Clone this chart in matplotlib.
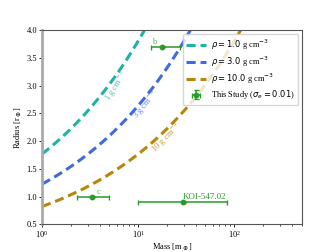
import numpy as np
import matplotlib
matplotlib.use('Agg')
import matplotlib.pyplot as plt

# densities of the constant-density curves (g cm^-3)
densities = [1.0, 3.0, 10.0]
dens_colors = ['#20b2a5', '#4169e1', '#b8860b']
dens_names = ['1 g cm$^{-3}$', '3 g cm$^{-3}$', '10 g cm$^{-3}$']
# where the inline labels sit (mass, radius, angle)
lab_mass = [5.9, 11.8, 19.6]
lab_rad = [2.99, 2.66, 2.07]
lab_rot = [57, 50, 45]

# planets: mass, mass errors, radius
pl_names = ['b', 'c', 'KOI-547.02']
pl_mass = [17.7, 3.3, 29.4]
pl_mlo = [4.1, 1.0, 19.4]
pl_mhi = [9.3, 1.7, 54.6]
pl_rad = [3.70, 1.00, 0.90]
pl_rerr = [0.01, 0.01, 0.01]

plt.rcParams['font.family'] = ['Liberation Serif', 'DejaVu Sans']
plt.rcParams['mathtext.fontset'] = 'dejavusans'
plt.rcParams['font.size'] = 6

fig = plt.figure(figsize=(3.36, 2.52), dpi=100)
ax = fig.add_subplot(111)

rho_earth = 5.51
m = np.logspace(0, 3, 200)
for rho, col in zip(densities, dens_colors):
    r = (rho_earth / rho * m) ** (1.0 / 3)
    ax.plot(m, r, '--', color=col, lw=2.2, dashes=(3, 1.6),
            label=r'$\rho = %.1f$ g cm$^{-3}$' % rho)

for i in range(3):
    ax.text(lab_mass[i], lab_rad[i], dens_names[i], color=dens_colors[i],
            rotation=lab_rot[i], ha='center', va='center', fontsize=6.2, alpha=0.8)

ax.errorbar(pl_mass, pl_rad, xerr=[pl_mlo, pl_mhi], yerr=pl_rerr, fmt='o',
            color='#2a9a2a', ms=3.2, lw=1.1, capsize=1.8,
            label=r'This Study ($\sigma_e = 0.01$)')

ax.text(pl_mass[0] - 3.2, pl_rad[0] + 0.06, pl_names[0], color='#4cb84c', fontsize=6, ha='center')
ax.text(pl_mass[1] + 0.4, pl_rad[1] + 0.05, pl_names[1], color='#4cb84c', fontsize=6)
ax.text(pl_mass[2], pl_rad[2] + 0.05, pl_names[2], color='#2a9a2a', fontsize=6.5)

ax.set_xscale('log')
ax.set_xlim(1, 510)
ax.set_ylim(0.5, 4.0)
ax.set_xlabel(r'Mass [m$_\oplus$]', fontsize=6, labelpad=1)
ax.set_ylabel(r'Radius [r$_\oplus$]', fontsize=6, labelpad=2)
ax.tick_params(which='major', length=2.5, width=0.6, labelsize=6, pad=1)
ax.tick_params(which='minor', length=1.5, width=0.5)
for s in ax.spines.values():
    s.set_color('#555555')
    s.set_linewidth(0.8)
ax.spines['left'].set_color('#aaaaaa')
ax.spines['left'].set_linewidth(2)

ax.legend(loc='upper right', fontsize=6, handlelength=2.4, borderpad=0.4,
          labelspacing=0.3, handletextpad=0.6)

fig.subplots_adjust(left=0.125, right=0.9, bottom=0.11, top=0.88)
fig.savefig('out.png', dpi=100)
